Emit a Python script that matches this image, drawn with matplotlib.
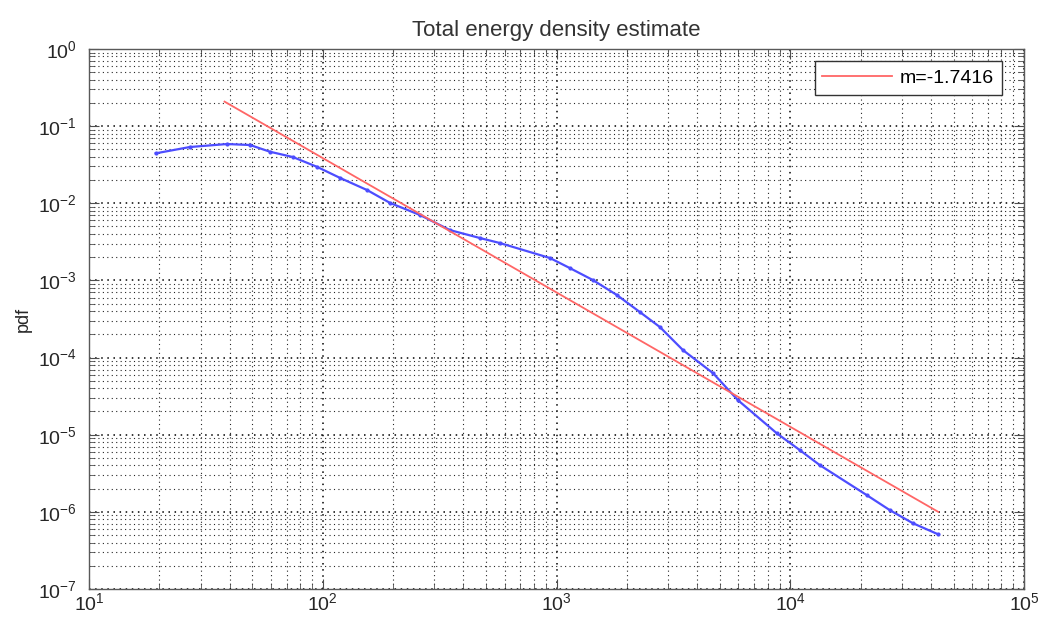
import numpy as np
import matplotlib
matplotlib.use("Agg")
import matplotlib.pyplot as plt
from matplotlib.ticker import FixedLocator, LogFormatterMathtext, NullFormatter

plt.rcParams['font.family'] = ['Liberation Sans', 'DejaVu Sans']
plt.rcParams['mathtext.default'] = 'regular'

# Kernel density estimate of total energy (log-log)
energy = [19.3, 27.0, 38.9, 48.9, 59.4, 74.6, 94.4, 119, 155, 194, 261, 350,
          471, 573, 938, 1143, 1432, 1815, 2276, 2772, 3475, 4672, 5976,
          8770, 11000, 13400, 21300, 26700, 33500, 42900]
pdf = [0.0444, 0.0536, 0.0586, 0.0569, 0.0466, 0.0397, 0.0297, 0.0212,
       0.0148, 0.0101, 0.00703, 0.00449, 0.00354, 0.00305, 0.00195, 0.00144,
       0.00101, 6.45e-4, 3.88e-4, 2.48e-4, 1.25e-4, 6.28e-5, 2.80e-5,
       1.04e-5, 6.3e-6, 4.02e-6, 1.64e-6, 1.05e-6, 7.11e-7, 5.12e-7]

# Power-law fit
slope = -1.7416
log_intercept = 2.069
fit_range = [38.0, 43000.0]

# Axis decades
x_decades = [1, 2, 3, 4, 5]
y_decades = [-7, -6, -5, -4, -3, -2, -1, 0]

fig = plt.figure(figsize=(10.4, 6.24), dpi=100)
ax = fig.add_axes([0.0856, 0.0561, 0.899, 0.8654])

ax.plot(energy, pdf, color=(0.3, 0.3, 1.0), lw=1.6, marker='.', ms=4,
        zorder=3)
fx = np.array(fit_range)
fy = 10 ** log_intercept * fx ** slope
ax.plot(fx, fy, color=(1.0, 0.4, 0.4), lw=1.3, label='m=%.4f' % slope,
        zorder=4)

ax.set_xscale('log')
ax.set_yscale('log')
ax.set_xlim(10.0 ** x_decades[0], 10.0 ** x_decades[-1])
ax.set_ylim(10.0 ** y_decades[0], 10.0 ** y_decades[-1])


def minor_positions(decades):
    return [m * 10.0 ** d for d in decades[:-1] for m in range(2, 10)]


ax.xaxis.set_major_locator(FixedLocator([10.0 ** d for d in x_decades]))
ax.yaxis.set_major_locator(FixedLocator([10.0 ** d for d in y_decades]))
ax.xaxis.set_minor_locator(FixedLocator(minor_positions(x_decades)))
ax.yaxis.set_minor_locator(FixedLocator(minor_positions(y_decades)))
ax.xaxis.set_major_formatter(LogFormatterMathtext())
ax.yaxis.set_major_formatter(LogFormatterMathtext())
ax.xaxis.set_minor_formatter(NullFormatter())
ax.yaxis.set_minor_formatter(NullFormatter())

ax.grid(True, which='major', color='k', linestyle=(0, (1, 3)), lw=1.1)
ax.grid(True, which='minor', color='0.15', linestyle=(0, (1, 3)), lw=0.8)

ax.tick_params(which='both', direction='in', top=True, right=True,
               colors='0.3', labelcolor='0.15', labelsize=14)
ax.tick_params(which='major', length=7, width=0.8)
ax.tick_params(which='minor', length=4, width=0.6)
ax.tick_params(axis='y', which='major', pad=9)
ax.tick_params(axis='x', which='major', pad=2)
for s in ax.spines.values():
    s.set_color('0.35')
    s.set_linewidth(1.0)

ax.set_title('Total energy density estimate', fontsize=16, color='0.2', pad=9)
ax.set_ylabel('pdf', fontsize=13, color='0.15', labelpad=4)

leg = ax.legend(loc='upper right', bbox_to_anchor=(0.9765, 0.977), fontsize=14,
                frameon=True, fancybox=False, handlelength=3.6,
                borderaxespad=0.0, borderpad=0.4, handletextpad=0.4)
leg.get_frame().set_edgecolor('0.2')
leg.get_frame().set_linewidth(1.0)
leg.get_frame().set_alpha(1.0)

fig.savefig('out.png', dpi=100)
